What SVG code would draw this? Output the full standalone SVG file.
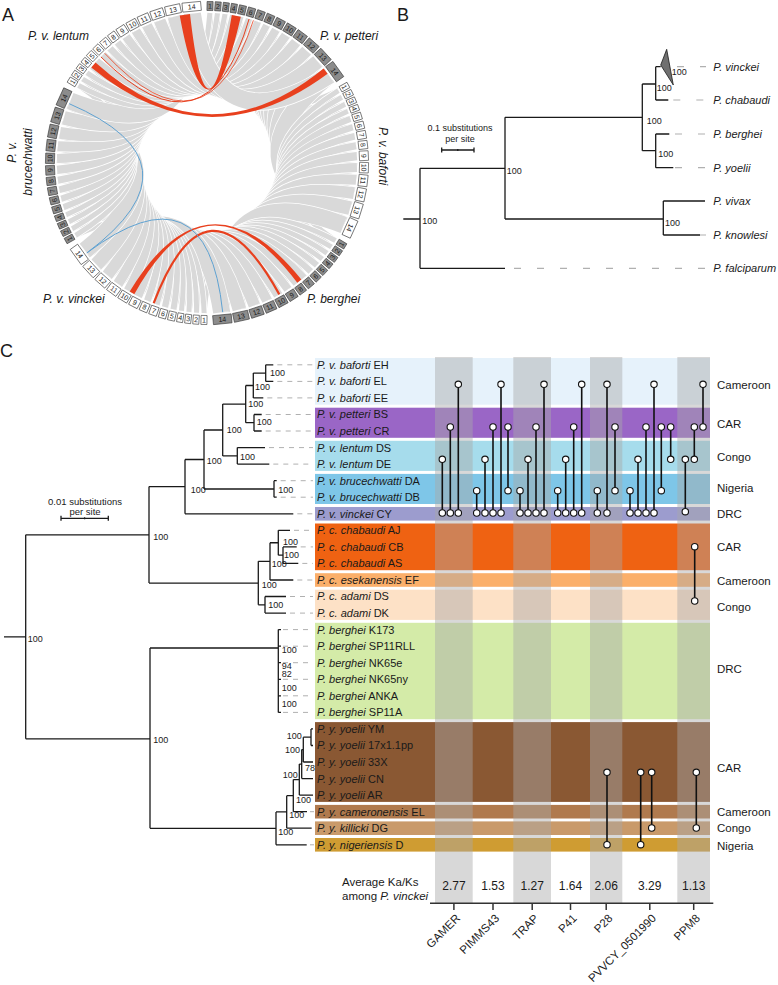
<svg xmlns="http://www.w3.org/2000/svg" xmlns:xlink="http://www.w3.org/1999/xlink" width="778" height="985" viewBox="0 0 778 985">
<style>
text{font-family:"Liberation Sans",Arial,sans-serif;fill:#1a1a1a}
.pl{font-size:18px}
.sp{font-size:12px;font-style:italic}
.it{font-style:italic}
.cn text{font-size:7px;text-anchor:middle;dominant-baseline:central}
.gb{fill:#8c8c8c;stroke:#333;stroke-width:.6}
.wb{fill:#fff;stroke:#333;stroke-width:.6}
.tree{fill:none;stroke:#1a1a1a;stroke-width:1.3}
.dash{fill:none;stroke:#b0b0b0;stroke-width:1;stroke-dasharray:5 5}
.dashB{fill:none;stroke:#b0b0b0;stroke-width:1.2;stroke-dasharray:7 16}
.bs text{font-size:9px}
.tx text{font-size:11px}
.bl text{font-size:11px;font-style:italic}
.rg text{font-size:11.5px}
.ov{fill:#a8a8a8;fill-opacity:.45}
.lol line{stroke:#111;stroke-width:1.6}
.lol circle{fill:#fff;stroke:#111;stroke-width:1.1}
.red{fill:#e8401e}
.redl{fill:none;stroke:#e8401e}
.blue{fill:none;stroke:#5fa2d2;stroke-width:1}
</style>
<defs>
<path id="rb" d="M129.9,-75Q15,0 129.9,75" fill="none"/>
<g id="q1"><use href="#rb" stroke="#fff" stroke-width="6.4"/><use href="#rb" stroke="#d9d9d9" stroke-width="5"/></g>
<g id="q5"><use href="#rb" stroke="#fff" stroke-width="7.4"/><use href="#rb" stroke="#d9d9d9" stroke-width="6"/></g>
<g id="q6"><use href="#rb" stroke="#fff" stroke-width="7.7"/><use href="#rb" stroke="#d9d9d9" stroke-width="6.3"/></g>
<g id="q7"><use href="#rb" stroke="#fff" stroke-width="8.2"/><use href="#rb" stroke="#d9d9d9" stroke-width="6.8"/></g>
<g id="q8"><use href="#rb" stroke="#fff" stroke-width="8.4"/><use href="#rb" stroke="#d9d9d9" stroke-width="7"/></g>
<g id="q9"><use href="#rb" stroke="#fff" stroke-width="9.7"/><use href="#rb" stroke="#d9d9d9" stroke-width="8.3"/></g>
<g id="q10"><use href="#rb" stroke="#fff" stroke-width="10.5"/><use href="#rb" stroke="#d9d9d9" stroke-width="9.1"/></g>
<g id="q11"><use href="#rb" stroke="#fff" stroke-width="11.6"/><use href="#rb" stroke="#d9d9d9" stroke-width="10.2"/></g>
<g id="q12"><use href="#rb" stroke="#fff" stroke-width="13.1"/><use href="#rb" stroke="#d9d9d9" stroke-width="11.7"/></g>
<g id="q13"><use href="#rb" stroke="#fff" stroke-width="15.2"/><use href="#rb" stroke="#d9d9d9" stroke-width="13.8"/></g>
<g id="q14"><use href="#rb" stroke="#fff" stroke-width="18.4"/><use href="#rb" stroke="#d9d9d9" stroke-width="17"/></g>
<rect id="b1" x="152.5" y="-3.02" width="9" height="6.03"/>
<rect id="b5" x="152.5" y="-3.56" width="9" height="7.12"/>
<rect id="b6" x="152.5" y="-3.7" width="9" height="7.4"/>
<rect id="b7" x="152.5" y="-3.98" width="9" height="7.95"/>
<rect id="b8" x="152.5" y="-4.11" width="9" height="8.22"/>
<rect id="b9" x="152.5" y="-4.8" width="9" height="9.59"/>
<rect id="b10" x="152.5" y="-5.2" width="9" height="10.41"/>
<rect id="b11" x="152.5" y="-5.76" width="9" height="11.51"/>
<rect id="b12" x="152.5" y="-6.58" width="9" height="13.15"/>
<rect id="b13" x="152.5" y="-7.67" width="9" height="15.34"/>
<rect id="b14" x="152.5" y="-9.32" width="9" height="18.63"/>
</defs>
<rect width="778" height="985" fill="#fff"/>

<g id="panel-a">
<text class="pl" x="2" y="21">A</text>
<g id="ribbons" transform="translate(207,163)">
<use href="#q1" transform="rotate(-58.9)"/><use href="#q1" transform="rotate(-56)"/><use href="#q1" transform="rotate(-53.1)"/><use href="#q1" transform="rotate(-50.2)"/><use href="#q5" transform="rotate(-47.1)"/><use href="#q6" transform="rotate(-43.75)"/><use href="#q7" transform="rotate(-40.25)"/><use href="#q8" transform="rotate(-36.6)"/><use href="#q9" transform="rotate(-32.65)"/><use href="#q10" transform="rotate(-28.3)"/><use href="#q11" transform="rotate(-23.6)"/><use href="#q12" transform="rotate(-18.4)"/><use href="#q13" transform="rotate(-12.5)"/><use href="#q14" transform="rotate(-5.6)"/>
<use href="#q1" transform="rotate(1.1)"/><use href="#q1" transform="rotate(4)"/><use href="#q1" transform="rotate(6.9)"/><use href="#q1" transform="rotate(9.8)"/><use href="#q5" transform="rotate(12.9)"/><use href="#q6" transform="rotate(16.25)"/><use href="#q7" transform="rotate(19.75)"/><use href="#q8" transform="rotate(23.4)"/><use href="#q9" transform="rotate(27.35)"/><use href="#q10" transform="rotate(31.7)"/><use href="#q11" transform="rotate(36.4)"/><use href="#q12" transform="rotate(41.6)"/><use href="#q13" transform="rotate(47.5)"/><use href="#q14" transform="rotate(54.4)"/>
<use href="#q1" transform="rotate(61.1)"/><use href="#q1" transform="rotate(64)"/><use href="#q1" transform="rotate(66.9)"/><use href="#q1" transform="rotate(69.8)"/><use href="#q5" transform="rotate(72.9)"/><use href="#q6" transform="rotate(76.25)"/><use href="#q7" transform="rotate(79.75)"/><use href="#q8" transform="rotate(83.4)"/><use href="#q9" transform="rotate(87.35)"/><use href="#q10" transform="rotate(91.7)"/><use href="#q11" transform="rotate(96.4)"/><use href="#q12" transform="rotate(101.6)"/><use href="#q13" transform="rotate(107.5)"/><use href="#q14" transform="rotate(114.4)"/>
<use href="#q1" transform="rotate(121.1)"/><use href="#q1" transform="rotate(124)"/><use href="#q1" transform="rotate(126.9)"/><use href="#q1" transform="rotate(129.8)"/><use href="#q5" transform="rotate(132.9)"/><use href="#q6" transform="rotate(136.25)"/><use href="#q7" transform="rotate(139.75)"/><use href="#q8" transform="rotate(143.4)"/><use href="#q9" transform="rotate(147.35)"/><use href="#q10" transform="rotate(151.7)"/><use href="#q11" transform="rotate(156.4)"/><use href="#q12" transform="rotate(161.6)"/><use href="#q13" transform="rotate(167.5)"/><use href="#q14" transform="rotate(174.4)"/>
<use href="#q1" transform="rotate(181.1)"/><use href="#q1" transform="rotate(184)"/><use href="#q1" transform="rotate(186.9)"/><use href="#q1" transform="rotate(189.8)"/><use href="#q5" transform="rotate(192.9)"/><use href="#q6" transform="rotate(196.25)"/><use href="#q7" transform="rotate(199.75)"/><use href="#q8" transform="rotate(203.4)"/><use href="#q9" transform="rotate(207.35)"/><use href="#q10" transform="rotate(211.7)"/><use href="#q11" transform="rotate(216.4)"/><use href="#q12" transform="rotate(221.6)"/><use href="#q13" transform="rotate(227.5)"/><use href="#q14" transform="rotate(234.4)"/>
<use href="#q1" transform="rotate(241.1)"/><use href="#q1" transform="rotate(244)"/><use href="#q1" transform="rotate(246.9)"/><use href="#q1" transform="rotate(249.8)"/><use href="#q5" transform="rotate(252.9)"/><use href="#q6" transform="rotate(256.25)"/><use href="#q7" transform="rotate(259.75)"/><use href="#q8" transform="rotate(263.4)"/><use href="#q9" transform="rotate(267.35)"/><use href="#q10" transform="rotate(271.7)"/><use href="#q11" transform="rotate(276.4)"/><use href="#q12" transform="rotate(281.6)"/><use href="#q13" transform="rotate(287.5)"/><use href="#q14" transform="rotate(294.4)"/>
</g>
<g id="links">
<path class="red" d="M179.7,15.5L190,14Q207,163 231.8,15.1L240.8,16.8Q207,163 179.7,15.5Z"/>
<path class="redl" stroke-width="1" d="M249.1,19Q207,163 100.9,56.9"/>
<path class="redl" stroke-width=".8" d="M253.4,20.3Q207,163 104.7,53.3"/>
<path class="red" d="M91.3,67.6L95.5,62.6Q207,163 323.6,68.6L327.6,73.8Q207,163 91.3,67.6Z"/>
<path class="red" d="M129.7,291.6L134.3,294.2Q207,163 297.3,282.8L301.4,279.6Q207,163 129.7,291.6Z"/>
<path class="redl" stroke-width="2.2" d="M153.7,303.2Q207,163 279.3,294.4"/>
<path class="blue" d="M69.2,103.7Q207,163 86.9,252.9"/>
<path class="blue" d="M86.9,252.9Q207,163 222.7,312.2"/>
</g>
<g id="chromosomes" transform="translate(207,163)">
<g id="petteri" class="gb"><use href="#b1" transform="rotate(-88.9)"/><use href="#b1" transform="rotate(-86)"/><use href="#b1" transform="rotate(-83.1)"/><use href="#b1" transform="rotate(-80.2)"/><use href="#b5" transform="rotate(-77.1)"/><use href="#b6" transform="rotate(-73.75)"/><use href="#b7" transform="rotate(-70.25)"/><use href="#b8" transform="rotate(-66.6)"/><use href="#b9" transform="rotate(-62.65)"/><use href="#b10" transform="rotate(-58.3)"/><use href="#b11" transform="rotate(-53.6)"/><use href="#b12" transform="rotate(-48.4)"/><use href="#b13" transform="rotate(-42.5)"/><use href="#b14" transform="rotate(-35.6)"/></g>
<g id="baforti" class="wb"><use href="#b1" transform="rotate(-28.9)"/><use href="#b1" transform="rotate(-26)"/><use href="#b1" transform="rotate(-23.1)"/><use href="#b1" transform="rotate(-20.2)"/><use href="#b5" transform="rotate(-17.1)"/><use href="#b6" transform="rotate(-13.75)"/><use href="#b7" transform="rotate(-10.25)"/><use href="#b8" transform="rotate(-6.6)"/><use href="#b9" transform="rotate(-2.65)"/><use href="#b10" transform="rotate(1.7)"/><use href="#b11" transform="rotate(6.4)"/><use href="#b12" transform="rotate(11.6)"/><use href="#b13" transform="rotate(17.5)"/><use href="#b14" transform="rotate(24.4)"/></g>
<g id="berghei" class="gb"><use href="#b1" transform="rotate(31.1)"/><use href="#b1" transform="rotate(34)"/><use href="#b1" transform="rotate(36.9)"/><use href="#b1" transform="rotate(39.8)"/><use href="#b5" transform="rotate(42.9)"/><use href="#b6" transform="rotate(46.25)"/><use href="#b7" transform="rotate(49.75)"/><use href="#b8" transform="rotate(53.4)"/><use href="#b9" transform="rotate(57.35)"/><use href="#b10" transform="rotate(61.7)"/><use href="#b11" transform="rotate(66.4)"/><use href="#b12" transform="rotate(71.6)"/><use href="#b13" transform="rotate(77.5)"/><use href="#b14" transform="rotate(84.4)"/></g>
<g id="vinckei" class="wb"><use href="#b1" transform="rotate(91.1)"/><use href="#b1" transform="rotate(94)"/><use href="#b1" transform="rotate(96.9)"/><use href="#b1" transform="rotate(99.8)"/><use href="#b5" transform="rotate(102.9)"/><use href="#b6" transform="rotate(106.25)"/><use href="#b7" transform="rotate(109.75)"/><use href="#b8" transform="rotate(113.4)"/><use href="#b9" transform="rotate(117.35)"/><use href="#b10" transform="rotate(121.7)"/><use href="#b11" transform="rotate(126.4)"/><use href="#b12" transform="rotate(131.6)"/><use href="#b13" transform="rotate(137.5)"/><use href="#b14" transform="rotate(144.4)"/></g>
<g id="brucechwatti" class="gb"><use href="#b1" transform="rotate(151.1)"/><use href="#b1" transform="rotate(154)"/><use href="#b1" transform="rotate(156.9)"/><use href="#b1" transform="rotate(159.8)"/><use href="#b5" transform="rotate(162.9)"/><use href="#b6" transform="rotate(166.25)"/><use href="#b7" transform="rotate(169.75)"/><use href="#b8" transform="rotate(173.4)"/><use href="#b9" transform="rotate(177.35)"/><use href="#b10" transform="rotate(181.7)"/><use href="#b11" transform="rotate(186.4)"/><use href="#b12" transform="rotate(191.6)"/><use href="#b13" transform="rotate(197.5)"/><use href="#b14" transform="rotate(204.4)"/></g>
<g id="lentum" class="wb"><use href="#b1" transform="rotate(211.1)"/><use href="#b1" transform="rotate(214)"/><use href="#b1" transform="rotate(216.9)"/><use href="#b1" transform="rotate(219.8)"/><use href="#b5" transform="rotate(222.9)"/><use href="#b6" transform="rotate(226.25)"/><use href="#b7" transform="rotate(229.75)"/><use href="#b8" transform="rotate(233.4)"/><use href="#b9" transform="rotate(237.35)"/><use href="#b10" transform="rotate(241.7)"/><use href="#b11" transform="rotate(246.4)"/><use href="#b12" transform="rotate(251.6)"/><use href="#b13" transform="rotate(257.5)"/><use href="#b14" transform="rotate(264.4)"/></g>
<g class="cn">
<text transform="rotate(-88.9)translate(157)rotate(90)">1</text><text transform="rotate(-86)translate(157)rotate(90)">2</text><text transform="rotate(-83.1)translate(157)rotate(90)">3</text><text transform="rotate(-80.2)translate(157)rotate(90)">4</text><text transform="rotate(-77.1)translate(157)rotate(90)">5</text><text transform="rotate(-73.75)translate(157)rotate(90)">6</text><text transform="rotate(-70.25)translate(157)rotate(90)">7</text><text transform="rotate(-66.6)translate(157)rotate(90)">8</text><text transform="rotate(-62.65)translate(157)rotate(90)">9</text><text transform="rotate(-58.3)translate(157)rotate(90)">10</text><text transform="rotate(-53.6)translate(157)rotate(90)">11</text><text transform="rotate(-48.4)translate(157)rotate(90)">12</text><text transform="rotate(-42.5)translate(157)rotate(90)">13</text><text transform="rotate(-35.6)translate(157)rotate(90)">14</text>
<text transform="rotate(-28.9)translate(157)rotate(90)">1</text><text transform="rotate(-26)translate(157)rotate(90)">2</text><text transform="rotate(-23.1)translate(157)rotate(90)">3</text><text transform="rotate(-20.2)translate(157)rotate(90)">4</text><text transform="rotate(-17.1)translate(157)rotate(90)">5</text><text transform="rotate(-13.75)translate(157)rotate(90)">6</text><text transform="rotate(-10.25)translate(157)rotate(90)">7</text><text transform="rotate(-6.6)translate(157)rotate(90)">8</text><text transform="rotate(-2.65)translate(157)rotate(90)">9</text><text transform="rotate(1.7)translate(157)rotate(90)">10</text><text transform="rotate(6.4)translate(157)rotate(90)">11</text><text transform="rotate(11.6)translate(157)rotate(90)">12</text><text transform="rotate(17.5)translate(157)rotate(90)">13</text><text transform="rotate(24.4)translate(157)rotate(90)">14</text>
<text transform="rotate(31.1)translate(157)rotate(-90)">1</text><text transform="rotate(34)translate(157)rotate(-90)">2</text><text transform="rotate(36.9)translate(157)rotate(-90)">3</text><text transform="rotate(39.8)translate(157)rotate(-90)">4</text><text transform="rotate(42.9)translate(157)rotate(-90)">5</text><text transform="rotate(46.25)translate(157)rotate(-90)">6</text><text transform="rotate(49.75)translate(157)rotate(-90)">7</text><text transform="rotate(53.4)translate(157)rotate(-90)">8</text><text transform="rotate(57.35)translate(157)rotate(-90)">9</text><text transform="rotate(61.7)translate(157)rotate(-90)">10</text><text transform="rotate(66.4)translate(157)rotate(-90)">11</text><text transform="rotate(71.6)translate(157)rotate(-90)">12</text><text transform="rotate(77.5)translate(157)rotate(-90)">13</text><text transform="rotate(84.4)translate(157)rotate(-90)">14</text>
<text transform="rotate(91.1)translate(157)rotate(-90)">1</text><text transform="rotate(94)translate(157)rotate(-90)">2</text><text transform="rotate(96.9)translate(157)rotate(-90)">3</text><text transform="rotate(99.8)translate(157)rotate(-90)">4</text><text transform="rotate(102.9)translate(157)rotate(-90)">5</text><text transform="rotate(106.25)translate(157)rotate(-90)">6</text><text transform="rotate(109.75)translate(157)rotate(-90)">7</text><text transform="rotate(113.4)translate(157)rotate(-90)">8</text><text transform="rotate(117.35)translate(157)rotate(-90)">9</text><text transform="rotate(121.7)translate(157)rotate(-90)">10</text><text transform="rotate(126.4)translate(157)rotate(-90)">11</text><text transform="rotate(131.6)translate(157)rotate(-90)">12</text><text transform="rotate(137.5)translate(157)rotate(-90)">13</text><text transform="rotate(144.4)translate(157)rotate(-90)">14</text>
<text transform="rotate(151.1)translate(157)rotate(90)">1</text><text transform="rotate(154)translate(157)rotate(90)">2</text><text transform="rotate(156.9)translate(157)rotate(90)">3</text><text transform="rotate(159.8)translate(157)rotate(90)">4</text><text transform="rotate(162.9)translate(157)rotate(90)">5</text><text transform="rotate(166.25)translate(157)rotate(90)">6</text><text transform="rotate(169.75)translate(157)rotate(90)">7</text><text transform="rotate(173.4)translate(157)rotate(90)">8</text><text transform="rotate(177.35)translate(157)rotate(90)">9</text><text transform="rotate(181.7)translate(157)rotate(90)">10</text><text transform="rotate(186.4)translate(157)rotate(90)">11</text><text transform="rotate(191.6)translate(157)rotate(90)">12</text><text transform="rotate(197.5)translate(157)rotate(90)">13</text><text transform="rotate(204.4)translate(157)rotate(90)">14</text>
<text transform="rotate(211.1)translate(157)rotate(90)">1</text><text transform="rotate(214)translate(157)rotate(90)">2</text><text transform="rotate(216.9)translate(157)rotate(90)">3</text><text transform="rotate(219.8)translate(157)rotate(90)">4</text><text transform="rotate(222.9)translate(157)rotate(90)">5</text><text transform="rotate(226.25)translate(157)rotate(90)">6</text><text transform="rotate(229.75)translate(157)rotate(90)">7</text><text transform="rotate(233.4)translate(157)rotate(90)">8</text><text transform="rotate(237.35)translate(157)rotate(90)">9</text><text transform="rotate(241.7)translate(157)rotate(90)">10</text><text transform="rotate(246.4)translate(157)rotate(90)">11</text><text transform="rotate(251.6)translate(157)rotate(90)">12</text><text transform="rotate(257.5)translate(157)rotate(90)">13</text><text transform="rotate(264.4)translate(157)rotate(90)">14</text>
</g>
</g>
<g id="genome-labels">
<text class="sp" x="28" y="40">P. v. lentum</text>
<text class="sp" x="320" y="40">P. v. petteri</text>
<text class="sp" transform="translate(379,127) rotate(90)">P. v. baforti</text>
<text class="sp" text-anchor="middle" transform="translate(15.5,152) rotate(-90)">P. v.</text>
<text class="sp" text-anchor="middle" transform="translate(31.5,162) rotate(-90)">brucechwatti</text>
<text class="sp" x="43" y="303">P. v. vinckei</text>
<text class="sp" x="307" y="303">P. berghei</text>
</g>
</g>

<g id="panel-b">
<text class="pl" x="397" y="21">B</text>
<g id="b-connectors">
<path class="dashB" d="M514,268.3H706M677,66.7H706M673.3,100H706M675,134H706M675,167.7H706M700,235H706"/>
<path class="tree" d="M403.3,219H420M420,168.3V268.3M420,268.3H505M420,168.3H505M505,117.3V219M505,117.3H642.3M642.3,84V150.7M642.3,84H655.7M655.7,66.7V100M655.7,66.7H660.7M655.7,100H668.3M642.3,150.7H655.7M655.7,134V167.7M655.7,134H669.3M655.7,167.7H673.3M505,219H663.3M663.3,201V235M663.3,201H705M663.3,235H700"/>
<polygon points="660.7,65 666.7,49.3 673.3,85" fill="#707070" stroke="#1a1a1a" stroke-width=".8"/>
<path class="tree" stroke-width="1" d="M441.7,150H474M441.7,147.5V152.5M474,147.5V152.5M457.8,149V151"/>
</g>
<g class="bs">
<text x="422.3" y="223.9">100</text><text x="506.7" y="173.9">100</text><text x="646.7" y="123.9">100</text><text x="665" y="225.9">100</text><text x="656.7" y="90.5">100</text><text x="658.3" y="157.2">100</text><text x="671.7" y="74.9">100</text>
</g>
<text x="460" y="131" font-size="9" text-anchor="middle">0.1 substitutions</text>
<text x="460" y="141.5" font-size="9" text-anchor="middle">per site</text>
<g class="bl">
<text x="713.3" y="70.7">P. vinckei</text>
<text x="713.3" y="104">P. chabaudi</text>
<text x="713.3" y="138">P. berghei</text>
<text x="713.3" y="171.7">P. yoelii</text>
<text x="713.3" y="205">P. vivax</text>
<text x="713.3" y="239">P. knowlesi</text>
<text x="713.3" y="272.3">P. falciparum</text>
</g>
</g>

<g id="panel-c">
<text class="pl" x="0" y="357">C</text>
<g id="bands">
<rect x="315" y="358" width="395" height="46.7" fill="#e6f2fb"/>
<rect x="315" y="407.7" width="395" height="30.1" fill="#9a66c6"/>
<rect x="315" y="440.8" width="395" height="30.1" fill="#a6dcec"/>
<rect x="315" y="473.9" width="395" height="30.1" fill="#7ec6e8"/>
<rect x="315" y="507" width="395" height="13.6" fill="#9c9cce"/>
<rect x="315" y="523.5" width="395" height="46.7" fill="#ef6212"/>
<rect x="315" y="573.2" width="395" height="13.6" fill="#fbaf6a"/>
<rect x="315" y="589.7" width="395" height="30.2" fill="#fde1c6"/>
<rect x="315" y="622.8" width="395" height="96.4" fill="#d4eba8"/>
<rect x="315" y="722.1" width="395" height="79.8" fill="#8a5833"/>
<rect x="315" y="804.9" width="395" height="13.6" fill="#b07a4e"/>
<rect x="315" y="821.4" width="395" height="13.6" fill="#c99a6a"/>
<rect x="315" y="838" width="395" height="13.6" fill="#cf9c32"/>
</g>
<g id="gene-columns">
<rect class="ov" x="435" y="357" width="37.7" height="546.3"/>
<rect class="ov" x="513.3" y="357" width="37.7" height="546.3"/>
<rect class="ov" x="590" y="357" width="32.3" height="546.3"/>
<rect class="ov" x="677.3" y="357" width="32.7" height="546.3"/>
</g>
<g id="c-connectors">
<path class="dash" d="M277.3,364.8H313M277.3,381.4H313M267.3,397.9H313M265.7,414.5H313M265.7,431H313M269,447.6H313M273.3,464.1H313M280.7,480.7H313M280.7,497.2H313M297.3,513.8H313M294,530.3H313M300.7,546.9H313M302.3,563.4H313M297.3,580H313M290,596.5H313M290,613.1H313M283,629.6H313M283,646.2H313M283,662.7H313M283,679.3H313M283,695.8H313M283,712.4H313M310,811.7H314M310,844.8H314"/>
<path class="tree" d="M4,636.8H25.7M25.7,534.8V738.8M25.7,534.8H149M149,486.6V583.05M149,486.6H185M185,459.5V513.8M185,513.8H293.3M185,459.5H204M204,430V489M204,489H274M274,480.7V497.2M274,480.7H276.7M274,497.2H276.7M204,430H222.7M222.7,404.1V455.9M222.7,455.9H237.3M237.3,447.6V464.1M237.3,447.6H265M237.3,464.1H269.3M222.7,404.1H245.7M245.7,385.5V422.7M245.7,422.7H254M254,414.5V431M254,414.5H261.7M254,431H261.7M245.7,385.5H253.3M253.3,373.1V397.9M253.3,397.9H263.3M253.3,373.1H265.7M265.7,364.8V381.4M265.7,364.8H273.3M265.7,381.4H273.3M149,583.05H258.3M258.3,561.35V604.8M258.3,604.8H265M265,596.5V613.1M265,596.5H286M265,613.1H286M258.3,561.35H270M270,542.75V580M270,580H293.3M270,542.75H278.3M278.3,530.3V555.15M278.3,530.3H290M278.3,555.15H283M283,546.9V563.4M283,546.9H296.7M283,563.4H298.3M25.7,738.8H150M150,648V828.35M150,648H278.3M278.3,629.6V712.4M278.3,629.6H281M278.3,646.2H281M278.3,662.7H281M278.3,679.3H281M278.3,695.8H281M278.3,712.4H281M150,828.35H276M276,811.9V844.8M276,844.8H306.7M276,811.9H286.7M286.7,795.65V828.2M286.7,828.2H311.7M286.7,795.65H293.3M293.3,779.6V811.7M293.3,811.7H307M293.3,779.6H299.3M299.3,764.1V795.1M299.3,795.1H313M299.3,764.1H301.7M301.7,749.6V778.6M301.7,778.6H313M301.7,749.6H303.3M303.3,737.2V762M303.3,762H313M303.3,737.2H311M311,728.9V745.5M311,728.9H313M311,745.5H313"/>
<path class="tree" stroke-width="1" d="M61,518.3H108.3M61,515.8V520.8M108.3,515.8V520.8M84.6,517.3V519.3"/>
</g>
<text x="85" y="505" font-size="9.5" text-anchor="middle">0.01 substitutions</text>
<text x="85" y="514.5" font-size="9.5" text-anchor="middle">per site</text>
<g class="bs">
<text x="27.7" y="641.5">100</text><text x="153.3" y="539.9">100</text><text x="153.3" y="743.2">100</text>
<text x="270" y="375.9">100</text><text x="255" y="389.9">100</text><text x="248.3" y="407.2">100</text><text x="256.7" y="424.9">100</text><text x="226.7" y="433.2">100</text><text x="240" y="459.9">100</text><text x="206.7" y="463.9">100</text><text x="190.7" y="492.5">100</text><text x="278.3" y="493.2">100</text>
<text x="283" y="544.9">100</text><text x="284" y="558.2">100</text><text x="271.7" y="566.5">100</text><text x="261.7" y="588.2">100</text><text x="268.3" y="608.2">100</text>
<text x="281.7" y="652.5">100</text><text x="281.7" y="668.9">94</text><text x="281.7" y="677.2">82</text><text x="281.7" y="690.5">100</text><text x="281.7" y="706.5">100</text>
<text x="286.7" y="739.2">100</text><text x="285" y="753.2">100</text><text x="305" y="770.5">78</text><text x="282.7" y="778.2">100</text><text x="296" y="802.5">100</text><text x="289.3" y="818.2">100</text><text x="278.3" y="834.9">100</text>
</g>
<g id="taxa" class="tx">
<text x="317" y="368.7"><tspan class="it">P. v. baforti</tspan> EH</text>
<text x="317" y="385.3"><tspan class="it">P. v. baforti</tspan> EL</text>
<text x="317" y="401.8"><tspan class="it">P. v. baforti</tspan> EE</text>
<text x="317" y="418.4"><tspan class="it">P. v. petteri</tspan> BS</text>
<text x="317" y="434.9"><tspan class="it">P. v. petteri</tspan> CR</text>
<text x="317" y="451.5"><tspan class="it">P. v. lentum</tspan> DS</text>
<text x="317" y="468"><tspan class="it">P. v. lentum</tspan> DE</text>
<text x="317" y="484.6"><tspan class="it">P. v. brucechwatti</tspan> DA</text>
<text x="317" y="501.1"><tspan class="it">P. v. brucechwatti</tspan> DB</text>
<text x="317" y="517.7"><tspan class="it">P. v. vinckei</tspan> CY</text>
<text x="317" y="534.2"><tspan class="it">P. c. chabaudi</tspan> AJ</text>
<text x="317" y="550.8"><tspan class="it">P. c. chabaudi</tspan> CB</text>
<text x="317" y="567.3"><tspan class="it">P. c. chabaudi</tspan> AS</text>
<text x="317" y="583.9"><tspan class="it">P. c. esekanensis</tspan> EF</text>
<text x="317" y="600.4"><tspan class="it">P. c. adami</tspan> DS</text>
<text x="317" y="617"><tspan class="it">P. c. adami</tspan> DK</text>
<text x="317" y="633.5"><tspan class="it">P. berghei</tspan> K173</text>
<text x="317" y="650.1"><tspan class="it">P. berghei</tspan> SP11RLL</text>
<text x="317" y="666.6"><tspan class="it">P. berghei</tspan> NK65e</text>
<text x="317" y="683.2"><tspan class="it">P. berghei</tspan> NK65ny</text>
<text x="317" y="699.7"><tspan class="it">P. berghei</tspan> ANKA</text>
<text x="317" y="716.3"><tspan class="it">P. berghei</tspan> SP11A</text>
<text x="317" y="732.8"><tspan class="it">P. y. yoelii</tspan> YM</text>
<text x="317" y="749.4"><tspan class="it">P. y. yoelii</tspan> 17x1.1pp</text>
<text x="317" y="765.9"><tspan class="it">P. y. yoelii</tspan> 33X</text>
<text x="317" y="782.5"><tspan class="it">P. y. yoelii</tspan> CN</text>
<text x="317" y="799"><tspan class="it">P. y. yoelii</tspan> AR</text>
<text x="317" y="815.6"><tspan class="it">P. y. cameronensis</tspan> EL</text>
<text x="317" y="832.1"><tspan class="it">P. y. killicki</tspan> DG</text>
<text x="317" y="848.7"><tspan class="it">P. y. nigeriensis</tspan> D</text>
</g>
<g id="lollipops" class="lol">
<line x1="442.3" y1="513" x2="442.3" y2="459.3"/><line x1="450.3" y1="513" x2="450.3" y2="427"/><line x1="458.3" y1="513" x2="458.3" y2="384.3"/>
<line x1="476.7" y1="513" x2="476.7" y2="490.7"/><line x1="485" y1="513" x2="485" y2="459.3"/><line x1="493" y1="513" x2="493" y2="427"/><line x1="501" y1="513" x2="501" y2="384.3"/><line x1="508" y1="490.7" x2="508" y2="427"/>
<line x1="520" y1="513" x2="520" y2="490.7"/><line x1="528" y1="513" x2="528" y2="459.3"/><line x1="536" y1="513" x2="536" y2="427"/><line x1="544" y1="513" x2="544" y2="384.3"/>
<line x1="557.7" y1="513" x2="557.7" y2="490.7"/><line x1="565.7" y1="513" x2="565.7" y2="459.3"/><line x1="573.7" y1="513" x2="573.7" y2="427"/><line x1="581.7" y1="513" x2="581.7" y2="384.3"/>
<line x1="597.3" y1="513" x2="597.3" y2="490.7"/><line x1="607" y1="513" x2="607" y2="384.3"/><line x1="615" y1="490.7" x2="615" y2="427"/>
<line x1="630" y1="513" x2="630" y2="490.7"/><line x1="638" y1="513" x2="638" y2="459.3"/><line x1="646" y1="513" x2="646" y2="427"/><line x1="654" y1="513" x2="654" y2="384.3"/><line x1="661.3" y1="490.7" x2="661.3" y2="427"/><line x1="670.7" y1="459.3" x2="670.7" y2="427"/>
<line x1="685.3" y1="511.7" x2="685.3" y2="459.3"/><line x1="694.3" y1="459.3" x2="694.3" y2="427"/><line x1="703" y1="427" x2="703" y2="384.3"/>
<line x1="694.7" y1="546.7" x2="694.7" y2="601"/>
<line x1="607" y1="772.3" x2="607" y2="844.7"/><line x1="640.7" y1="772.3" x2="640.7" y2="844.7"/><line x1="651.7" y1="772.3" x2="651.7" y2="828"/><line x1="696.3" y1="772.3" x2="696.3" y2="828"/>
<circle cx="442.3" cy="513" r="3.2"/><circle cx="442.3" cy="459.3" r="3.2"/><circle cx="450.3" cy="513" r="3.2"/><circle cx="450.3" cy="427" r="3.2"/><circle cx="458.3" cy="513" r="3.2"/><circle cx="458.3" cy="384.3" r="3.2"/>
<circle cx="476.7" cy="513" r="3.2"/><circle cx="476.7" cy="490.7" r="3.2"/><circle cx="485" cy="513" r="3.2"/><circle cx="485" cy="459.3" r="3.2"/><circle cx="493" cy="513" r="3.2"/><circle cx="493" cy="427" r="3.2"/><circle cx="501" cy="513" r="3.2"/><circle cx="501" cy="384.3" r="3.2"/><circle cx="508" cy="490.7" r="3.2"/><circle cx="508" cy="427" r="3.2"/>
<circle cx="520" cy="513" r="3.2"/><circle cx="520" cy="490.7" r="3.2"/><circle cx="528" cy="513" r="3.2"/><circle cx="528" cy="459.3" r="3.2"/><circle cx="536" cy="513" r="3.2"/><circle cx="536" cy="427" r="3.2"/><circle cx="544" cy="513" r="3.2"/><circle cx="544" cy="384.3" r="3.2"/>
<circle cx="557.7" cy="513" r="3.2"/><circle cx="557.7" cy="490.7" r="3.2"/><circle cx="565.7" cy="513" r="3.2"/><circle cx="565.7" cy="459.3" r="3.2"/><circle cx="573.7" cy="513" r="3.2"/><circle cx="573.7" cy="427" r="3.2"/><circle cx="581.7" cy="513" r="3.2"/><circle cx="581.7" cy="384.3" r="3.2"/>
<circle cx="597.3" cy="513" r="3.2"/><circle cx="597.3" cy="490.7" r="3.2"/><circle cx="607" cy="513" r="3.2"/><circle cx="607" cy="384.3" r="3.2"/><circle cx="615" cy="490.7" r="3.2"/><circle cx="615" cy="427" r="3.2"/>
<circle cx="630" cy="513" r="3.2"/><circle cx="630" cy="490.7" r="3.2"/><circle cx="638" cy="513" r="3.2"/><circle cx="638" cy="459.3" r="3.2"/><circle cx="646" cy="513" r="3.2"/><circle cx="646" cy="427" r="3.2"/><circle cx="654" cy="513" r="3.2"/><circle cx="654" cy="384.3" r="3.2"/><circle cx="661.3" cy="490.7" r="3.2"/><circle cx="661.3" cy="427" r="3.2"/><circle cx="670.7" cy="459.3" r="3.2"/><circle cx="670.7" cy="427" r="3.2"/>
<circle cx="685.3" cy="511.7" r="3.2"/><circle cx="685.3" cy="459.3" r="3.2"/><circle cx="694.3" cy="459.3" r="3.2"/><circle cx="694.3" cy="427" r="3.2"/><circle cx="703" cy="427" r="3.2"/><circle cx="703" cy="384.3" r="3.2"/>
<circle cx="694.7" cy="546.7" r="3.2"/><circle cx="694.7" cy="601" r="3.2"/>
<circle cx="607" cy="772.3" r="3.2"/><circle cx="607" cy="844.7" r="3.2"/><circle cx="640.7" cy="772.3" r="3.2"/><circle cx="640.7" cy="844.7" r="3.2"/><circle cx="651.7" cy="772.3" r="3.2"/><circle cx="651.7" cy="828" r="3.2"/><circle cx="696.3" cy="772.3" r="3.2"/><circle cx="696.3" cy="828" r="3.2"/>
</g>
<g id="regions" class="rg">
<text x="717" y="389">Cameroon</text><text x="717" y="428">CAR</text><text x="717" y="460.7">Congo</text><text x="717" y="492.3">Nigeria</text><text x="717" y="518">DRC</text>
<text x="717" y="550.7">CAR</text><text x="717" y="584.7">Cameroon</text><text x="717" y="610.7">Congo</text><text x="717" y="673">DRC</text>
<text x="717" y="772.3">CAR</text><text x="717" y="815.7">Cameroon</text><text x="717" y="832.3">Congo</text><text x="717" y="849.7">Nigeria</text>
</g>
<g id="kaks">
<text x="342" y="885.7" font-size="11.5">Average Ka/Ks</text>
<text x="342" y="899.7" font-size="11.5">among <tspan class="it">P. vinckei</tspan></text>
<g font-size="12" text-anchor="middle">
<text x="453.9" y="890">2.77</text><text x="493" y="890">1.53</text><text x="532.2" y="890">1.27</text><text x="570.5" y="890">1.64</text><text x="606.2" y="890">2.06</text><text x="649.8" y="890">3.29</text><text x="693.7" y="890">1.13</text>
</g>
<path fill="none" stroke="#333" stroke-width="1.5" d="M430,903.3H713.3M453.9,903.3V910M493,903.3V910M532.2,903.3V910M570.5,903.3V910M606.2,903.3V910M649.8,903.3V910M693.7,903.3V910"/>
<g font-size="11.5" text-anchor="end">
<text transform="translate(460.9,919) rotate(-45)">GAMER</text>
<text transform="translate(500,919) rotate(-45)">PIMMS43</text>
<text transform="translate(539.2,919) rotate(-45)">TRAP</text>
<text transform="translate(577.5,919) rotate(-45)">P41</text>
<text transform="translate(613.2,919) rotate(-45)">P28</text>
<text transform="translate(656.8,919) rotate(-45)">PVVCY_0501990</text>
<text transform="translate(700.7,919) rotate(-45)">PPM8</text>
</g>
</g>
</g>
</svg>
